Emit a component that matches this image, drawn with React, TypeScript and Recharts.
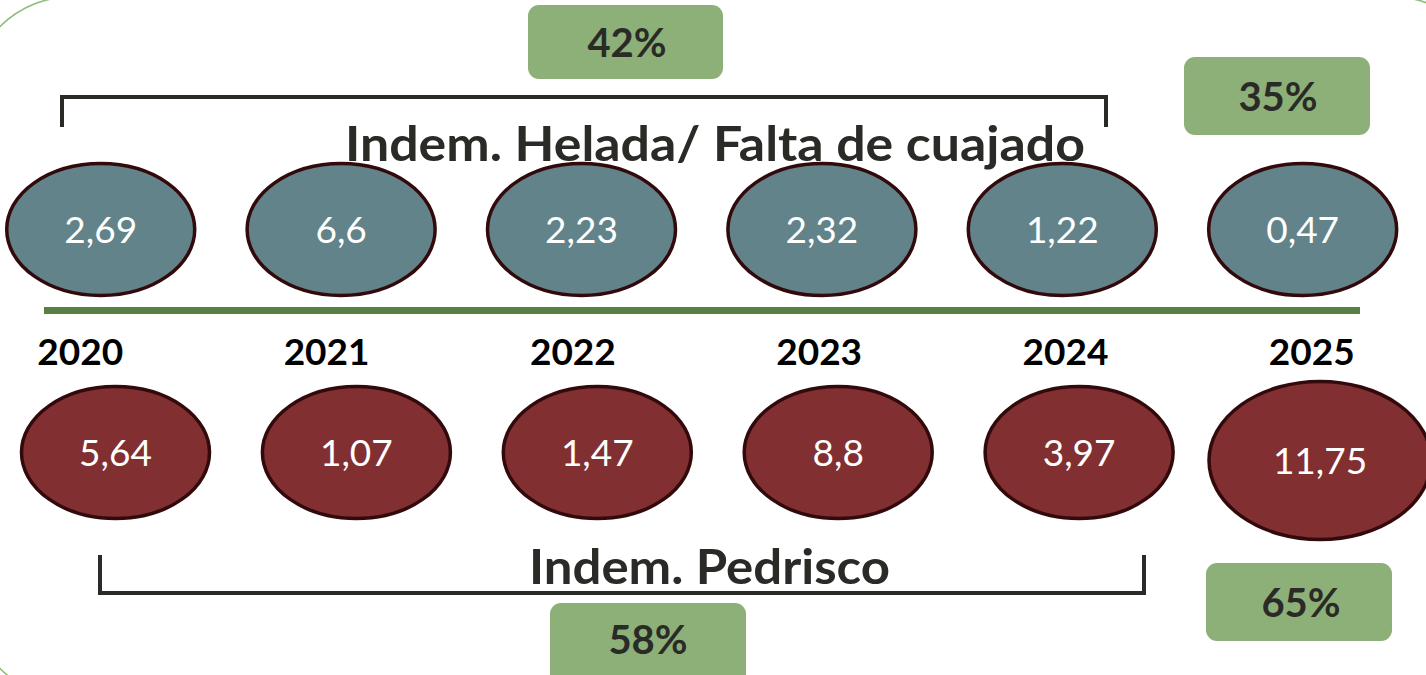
import { ComposedChart, Customized, Scatter, XAxis, YAxis } from "recharts"

const years = [2020, 2021, 2022, 2023, 2024, 2025]
const heladaValues = [2.69, 6.6, 2.23, 2.32, 1.22, 0.47]
const pedriscoValues = [5.64, 1.07, 1.47, 8.8, 3.97, 11.75]
const rowTitles = ["Indem. Helada/ Falta de cuajado", "Indem. Pedrisco"]
// share of indemnities: [helada, pedrisco]
const sharePeriod = [42, 58] // 2020-2024
const shareLastYear = [35, 65] // 2025

const heladaData = years.map((year, i) => ({ year, row: 0, value: heladaValues[i] }))
const pedriscoData = years.map((year, i) => ({ year, row: 1, value: pedriscoValues[i] }))
// year captions sit just above the pedrisco row
const yearData = years.map((year) => ({ year, row: 1 }))

const FONT = "Lato, 'Open Sans', sans-serif"
const DARK = "#2a2b27"
const BOX = "#8cb077"

const fmt = (v: number) => String(v).replace(".", ",")

function Oval(props: any) {
  const { cx, cy, payload, fill } = props
  if (cx == null || cy == null) return null
  const big = payload.value > 10
  const rx = big ? 111 : 94
  const ry = big ? 79 : 66
  const y = cy + (big ? 8 : 0)
  return (
    <g>
      <ellipse cx={cx} cy={y} rx={rx} ry={ry} fill={fill} stroke="#330a0c" strokeWidth={3.5} />
      <text x={cx} y={y + 13} textAnchor="middle" fill="#ffffff" fontSize={37} fontWeight={400} fontFamily={FONT}>
        {fmt(payload.value)}
      </text>
    </g>
  )
}

function YearMark(props: any) {
  const { cx, cy, payload } = props
  if (cx == null || cy == null) return null
  return (
    <text x={cx} y={cy - 88} textAnchor="middle" fill="#000" fontSize={37} fontWeight={700} fontFamily={FONT}>
      {payload.year}
    </text>
  )
}

function ShareBox({ x, y, w, h, tx, ty, v }: any) {
  return (
    <g>
      <rect x={x} y={y} width={w} height={h} rx={11} fill={BOX} />
      <text x={tx} y={ty} textAnchor="middle" fill={DARK} fontSize={40} fontWeight={700} fontFamily={FONT}>
        {v}%
      </text>
    </g>
  )
}

function Overlay() {
  return (
    <g>
      <rect x={-29} y={-3} width={1522} height={701} rx={100} fill="none" stroke="#8dbb78" strokeWidth={1.5} />
      <path d="M62 127 V97 H1106 V127" fill="none" stroke={DARK} strokeWidth={4} />
      <path d="M100 555 V593 H1144 V555" fill="none" stroke={DARK} strokeWidth={4} />
      <line x1={44} x2={1360} y1={310.5} y2={310.5} stroke="#5a7f43" strokeWidth={7} />
      <text x={715} y={161} textAnchor="middle" fill={DARK} fontSize={47} fontWeight={700}
        fontFamily={FONT} textLength={740} lengthAdjust="spacingAndGlyphs">
        {rowTitles[0]}
      </text>
      <text x={709.5} y={584} textAnchor="middle" fill={DARK} fontSize={47} fontWeight={700}
        fontFamily={FONT} textLength={361} lengthAdjust="spacingAndGlyphs">
        {rowTitles[1]}
      </text>
      <ShareBox x={528} y={5} w={195} h={74} tx={627} ty={57} v={sharePeriod[0]} />
      <ShareBox x={550} y={603} w={196} h={90} tx={648} ty={654} v={sharePeriod[1]} />
      <ShareBox x={1184} y={57} w={186} h={78} tx={1278} ty={111} v={shareLastYear[0]} />
      <ShareBox x={1206} y={563} w={186} h={78} tx={1301} ty={617} v={shareLastYear[1]} />
    </g>
  )
}

export default function App() {
  return (
    <div style={{ position: "absolute", left: 0, top: 0, width: 1426, height: 675, background: "#fff" }}>
      <ComposedChart width={1426} height={675} margin={{ top: 118, right: 0, bottom: 111, left: 0 }}>
        <XAxis xAxisId="top" type="number" dataKey="year" domain={[2019.581, 2025.513]} hide allowDataOverflow />
        <XAxis xAxisId="bottom" type="number" dataKey="year" domain={[2019.5205, 2025.44]} hide allowDataOverflow />
        <XAxis xAxisId="years" type="number" dataKey="year" domain={[2019.674, 2025.464]} hide allowDataOverflow />
        <YAxis type="number" dataKey="row" domain={[-0.5, 1.5]} reversed hide allowDataOverflow />
        <Customized component={Overlay} />
        <Scatter xAxisId="top" data={heladaData} dataKey="row" fill="#62838a" shape={Oval} isAnimationActive={false} />
        <Scatter xAxisId="bottom" data={pedriscoData} dataKey="row" fill="#812f31" shape={Oval} isAnimationActive={false} />
        <Scatter xAxisId="years" data={yearData} dataKey="row" shape={YearMark} isAnimationActive={false} />
      </ComposedChart>
    </div>
  )
}
